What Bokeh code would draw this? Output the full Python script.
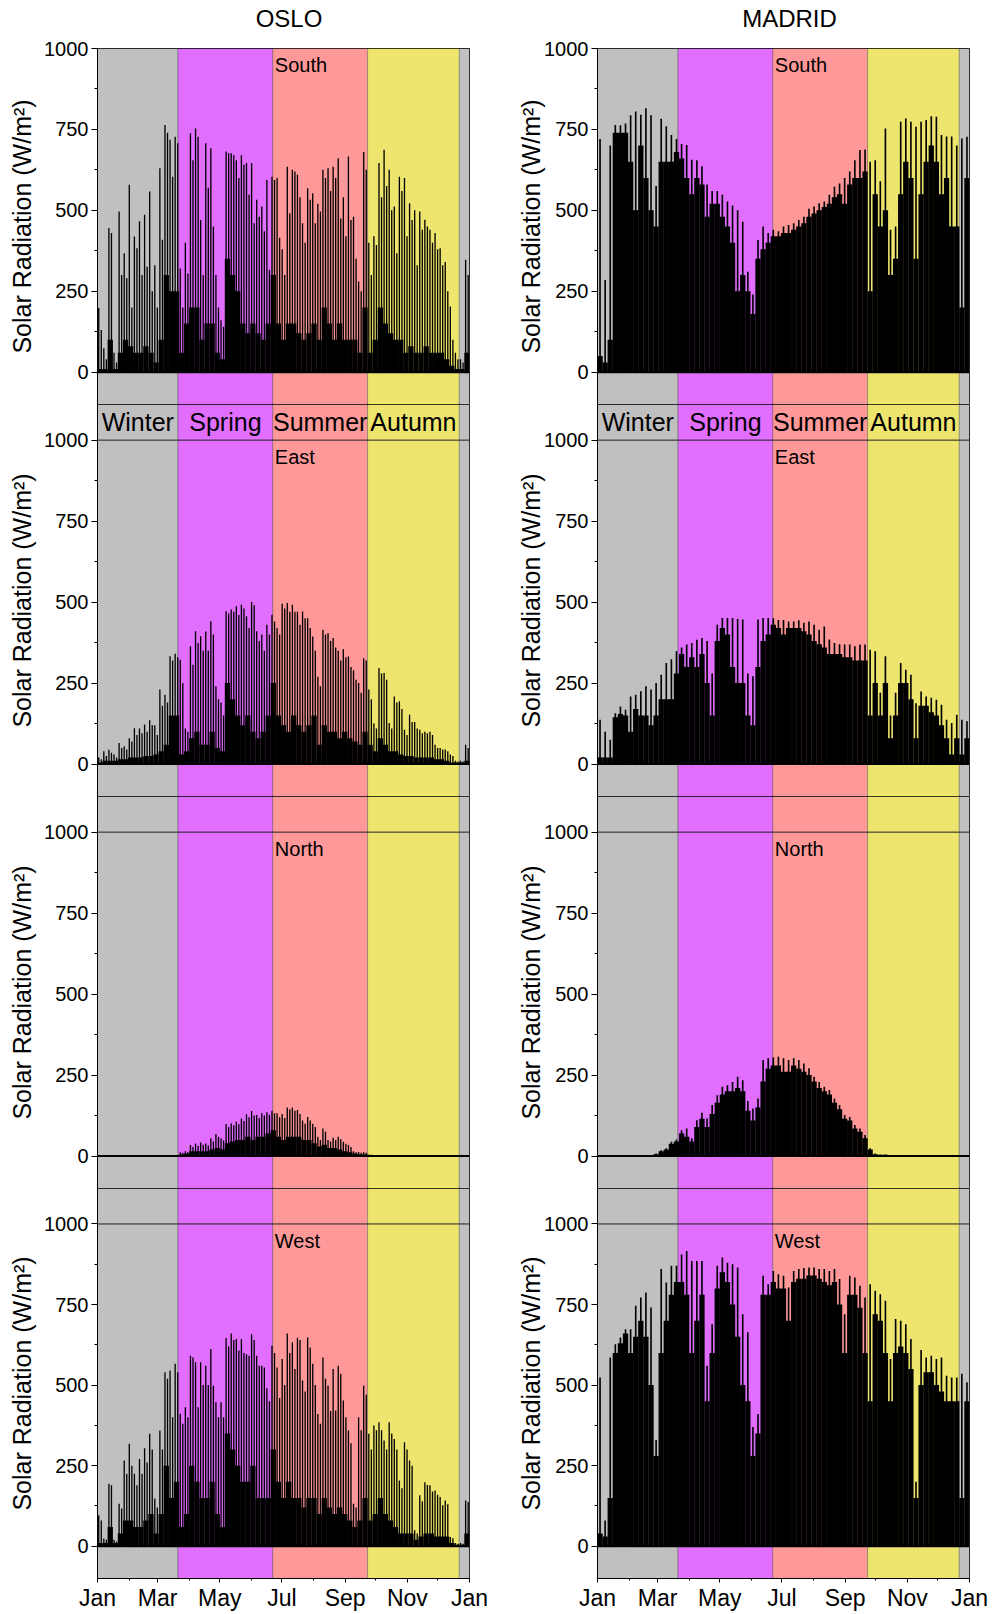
from bokeh.plotting import figure
from bokeh.layouts import gridplot, column, row
from bokeh.models import Range1d, FixedTicker, Span, BoxAnnotation, Label, Div
from bokeh.embed import file_html
from bokeh.resources import INLINE
from bokeh.core.properties import value

FONT = "Liberation Sans"

# ---- data -----------------------------------------------------------------
# 5-day bins (start day of each bin)
BIN_DAYS = list(range(0, 365, 5))
BIN_WIDTH = 5

SEASON_NAMES = ["Winter", "Spring", "Summer", "Autumn", "Winter"]
SEASON_START = [0, 79, 172, 265, 355]
SEASON_END = [79, 172, 265, 355, 365]
SEASON_COLORS = ["#C0C0C0", "#E16EFF", "#FF9999", "#EEE56E", "#C0C0C0"]

MONTH_TICKS = [0, 59, 120, 181, 243, 304, 365]
MONTH_LABELS = ["Jan", "Mar", "May", "Jul", "Sep", "Nov", "Jan"]
MONTH_MINOR = [31, 90, 151, 212, 273, 334]

CITIES = ["OSLO", "MADRID"]
ORIENTATIONS = ["South", "East", "North", "West"]

# peak = highest daily spike in bin, mid = second spike, low = level filled almost solid
OSLO_SOUTH_PEAK = [198, 74, 445, 60, 496, 367, 579, 419, 466, 486,
                   558, 330, 630, 764, 718, 727, 320, 400, 738, 753,
                   470, 707, 692, 300, 160, 682, 676, 655, 670, 646,
                   646, 533, 512, 594, 604, 600, 380, 635, 625, 610,
                   460, 568, 553, 520, 625, 630, 635, 661, 540, 666,
                   480, 280, 680, 400, 420, 646, 687, 625, 512, 604,
                   600, 522, 500, 496, 471, 440, 430, 383, 340, 203,
                   60, 40, 347]
OSLO_SOUTH_MID = [130, 40, 430, 30, 300, 290, 200, 383, 300, 326,
                  250, 200, 409, 740, 604, 707, 200, 305, 655, 727,
                  300, 570, 450, 200, 140, 676, 670, 600, 641, 548,
                  460, 480, 435, 316, 594, 415, 300, 491, 620, 540,
                  400, 533, 460, 496, 600, 560, 600, 475, 420, 470,
                  350, 250, 625, 300, 393, 540, 575, 500, 367, 560,
                  420, 470, 330, 440, 450, 400, 380, 330, 250, 100,
                  40, 30, 300]
OSLO_SOUTH_LOW = [10, 10, 100, 10, 60, 100, 80, 60, 60, 80,
                  60, 30, 100, 300, 250, 250, 60, 150, 200, 200,
                  100, 150, 150, 60, 40, 350, 300, 250, 150, 120,
                  150, 120, 100, 150, 300, 150, 100, 150, 150, 120,
                  100, 120, 150, 100, 200, 150, 100, 150, 100, 100,
                  100, 60, 200, 60, 100, 200, 150, 120, 100, 100,
                  60, 80, 60, 60, 80, 60, 60, 60, 40, 20,
                  10, 10, 60]

MADRID_SOUTH_PEAK = [720, 285, 700, 764, 763, 768, 794, 805, 795, 815,
                     794, 575, 783, 760, 733, 720, 705, 702, 656, 655,
                     636, 580, 560, 560, 548, 527, 515, 500, 465, 310,
                     240, 408, 450, 430, 440, 435, 450, 455, 460, 470,
                     480, 505, 512, 522, 527, 548, 573, 583, 600, 620,
                     655, 686, 688, 650, 655, 590, 753, 440, 450, 774,
                     784, 774, 758, 774, 779, 791, 789, 733, 728, 728,
                     700, 722, 727]
MADRID_SOUTH_LOW = [50, 30, 100, 740, 740, 740, 650, 500, 700, 600,
                    500, 450, 650, 650, 650, 680, 660, 600, 550, 600,
                    580, 480, 520, 520, 480, 450, 400, 250, 300, 250,
                    180, 350, 380, 400, 420, 420, 430, 430, 440, 450,
                    460, 480, 490, 500, 510, 520, 540, 550, 520, 580,
                    600, 600, 620, 250, 550, 450, 500, 300, 350, 550,
                    650, 600, 350, 550, 650, 700, 650, 550, 600, 450,
                    450, 200, 600]

OSLO_EAST_PEAK = [20, 40, 44, 30, 65, 55, 80, 111, 110, 122,
                  135, 120, 230, 214, 333, 341, 322, 110, 364, 410,
                  395, 409, 441, 240, 190, 472, 477, 487, 492, 456,
                  500, 410, 400, 430, 461, 420, 495, 497, 492, 470,
                  471, 450, 394, 270, 415, 404, 389, 350, 355, 332,
                  290, 250, 327, 230, 125, 297, 281, 127, 209, 194,
                  106, 152, 130, 106, 100, 100, 60, 50, 45, 30,
                  10, 10, 60]
OSLO_EAST_MID = [15, 25, 35, 20, 50, 45, 70, 90, 95, 100,
                 120, 90, 180, 190, 320, 330, 250, 100, 307, 374,
                 350, 350, 400, 200, 150, 465, 470, 460, 480, 420,
                 490, 380, 350, 400, 440, 400, 480, 470, 470, 430,
                 450, 420, 350, 240, 400, 380, 360, 320, 330, 300,
                 260, 220, 320, 200, 110, 280, 260, 110, 190, 170,
                 90, 130, 110, 95, 95, 90, 50, 45, 40, 25,
                 8, 8, 50]
OSLO_EAST_LOW = [5, 10, 10, 10, 15, 15, 20, 20, 20, 25,
                 25, 30, 40, 60, 150, 150, 30, 40, 80, 100,
                 60, 60, 100, 50, 40, 250, 200, 150, 120, 150,
                 100, 80, 100, 150, 250, 150, 120, 100, 150, 120,
                 100, 120, 150, 60, 120, 100, 100, 80, 100, 80,
                 70, 60, 100, 60, 40, 80, 60, 40, 40, 30,
                 25, 25, 20, 20, 20, 20, 15, 15, 10, 5,
                 5, 5, 10]

MADRID_EAST_PEAK = [137, 100, 75, 157, 178, 168, 209, 214, 225, 240,
                    230, 250, 276, 312, 324, 348, 360, 369, 374, 384,
                    389, 380, 280, 430, 451, 451, 451, 448, 446, 280,
                    271, 446, 451, 451, 450, 445, 445, 440, 440, 444,
                    436, 440, 430, 415, 425, 385, 374, 370, 369, 369,
                    364, 369, 369, 353, 348, 220, 333, 150, 220, 312,
                    291, 276, 188, 224, 209, 205, 199, 183, 137, 127,
                    152, 137, 132]
MADRID_EAST_LOW = [20, 20, 20, 145, 155, 150, 100, 170, 150, 150,
                   120, 150, 200, 200, 200, 280, 340, 300, 330, 300,
                   340, 250, 150, 380, 420, 400, 300, 250, 250, 150,
                   120, 300, 380, 400, 430, 420, 400, 420, 420, 420,
                   410, 400, 380, 370, 360, 340, 340, 340, 330, 330,
                   320, 320, 320, 150, 250, 150, 250, 80, 150, 250,
                   250, 200, 80, 180, 180, 160, 150, 120, 80, 30,
                   80, 30, 80]

OSLO_NORTH_PEAK = [0, 0, 0, 0, 0, 0, 0, 0, 0, 0,
                   0, 0, 0, 0, 0, 0, 12, 15, 34, 39,
                   42, 39, 55, 68, 55, 99, 101, 106, 116, 129,
                   139, 127, 132, 135, 140, 132, 130, 150, 150, 142,
                   110, 121, 100, 60, 85, 50, 57, 60, 44, 34,
                   15, 13, 12, 5, 0, 0, 0, 0, 0, 0,
                   0, 0, 0, 0, 0, 0, 0, 0, 0, 0,
                   0, 0, 0]
OSLO_NORTH_MID = [0, 0, 0, 0, 0, 0, 0, 0, 0, 0,
                  0, 0, 0, 0, 0, 0, 10, 12, 28, 32,
                  35, 33, 45, 60, 48, 90, 95, 98, 108, 120,
                  125, 118, 125, 128, 132, 120, 118, 145, 140, 130,
                  100, 110, 90, 50, 75, 45, 50, 52, 38, 28,
                  12, 10, 10, 4, 0, 0, 0, 0, 0, 0,
                  0, 0, 0, 0, 0, 0, 0, 0, 0, 0,
                  0, 0, 0]
OSLO_NORTH_LOW = [0, 0, 0, 0, 0, 0, 0, 0, 0, 0,
                  0, 0, 0, 0, 0, 0, 5, 8, 15, 15,
                  15, 15, 20, 25, 20, 40, 45, 50, 50, 60,
                  50, 60, 60, 70, 80, 60, 50, 60, 60, 60,
                  50, 50, 40, 30, 35, 25, 25, 20, 15, 12,
                  8, 6, 5, 2, 0, 0, 0, 0, 0, 0,
                  0, 0, 0, 0, 0, 0, 0, 0, 0, 0,
                  0, 0, 0]

MADRID_NORTH_PEAK = [0, 0, 0, 0, 0, 0, 0, 0, 0, 0,
                     3, 8, 18, 24, 44, 51, 80, 85, 55, 111,
                     134, 116, 158, 188, 214, 219, 229, 245, 234, 170,
                     147, 178, 297, 302, 304, 307, 302, 297, 302, 297,
                     286, 271, 245, 229, 214, 204, 178, 158, 127, 121,
                     96, 85, 65, 24, 8, 5, 5, 3, 3, 2,
                     0, 0, 0, 0, 0, 0, 0, 0, 0, 0,
                     0, 0, 0]
MADRID_NORTH_LOW = [0, 0, 0, 0, 0, 0, 0, 0, 0, 0,
                    2, 6, 15, 20, 38, 45, 70, 60, 45, 90,
                    115, 90, 130, 165, 190, 200, 200, 210, 200, 140,
                    110, 150, 230, 270, 280, 280, 260, 260, 280, 270,
                    260, 250, 230, 210, 200, 190, 165, 145, 115, 110,
                    85, 75, 55, 20, 6, 4, 4, 2, 2, 1,
                    0, 0, 0, 0, 0, 0, 0, 0, 0, 0,
                    0, 0, 0]

OSLO_WEST_PEAK = [96, 24, 194, 20, 132, 266, 318, 225, 271, 304,
                  349, 148, 359, 540, 545, 566, 411, 431, 591, 571,
                  571, 560, 612, 447, 447, 646, 660, 643, 643, 596,
                  658, 591, 560, 490, 622, 555, 581, 660, 633, 647,
                  514, 648, 566, 410, 586, 498, 550, 560, 452, 359,
                  132, 400, 498, 349, 375, 385, 328, 385, 333, 204,
                  323, 266, 50, 158, 199, 189, 173, 153, 142, 29,
                  10, 10, 142]
OSLO_WEST_MID = [80, 20, 189, 15, 117, 225, 250, 189, 225, 260,
                 300, 120, 300, 520, 400, 540, 380, 400, 586, 431,
                 500, 500, 498, 400, 400, 620, 640, 607, 600, 591,
                 640, 560, 555, 450, 600, 460, 500, 600, 550, 640,
                 480, 617, 500, 380, 520, 420, 421, 535, 400, 320,
                 120, 360, 470, 300, 360, 360, 300, 350, 300, 180,
                 300, 250, 40, 140, 190, 170, 160, 127, 130, 25,
                 8, 8, 137]
OSLO_WEST_LOW = [10, 10, 60, 10, 40, 80, 80, 60, 60, 80,
                 100, 40, 100, 250, 150, 200, 60, 100, 250, 200,
                 150, 150, 200, 100, 60, 350, 300, 250, 200, 200,
                 250, 150, 150, 150, 300, 200, 150, 200, 150, 150,
                 120, 150, 150, 100, 150, 120, 100, 120, 100, 80,
                 60, 80, 150, 80, 100, 150, 100, 80, 60, 40,
                 40, 40, 20, 30, 40, 40, 30, 30, 30, 10,
                 5, 5, 40]

MADRID_WEST_PEAK = [524, 80, 586, 627, 648, 673, 673, 746, 772, 787,
                    741, 330, 860, 818, 870, 870, 905, 916, 885, 885,
                    885, 560, 689, 870, 896, 880, 875, 865, 720, 664,
                    370, 410, 839, 813, 854, 844, 839, 803, 854, 860,
                    863, 865, 865, 860, 860, 854, 860, 829, 720, 839,
                    834, 808, 772, 813, 793, 782, 762, 581, 705, 700,
                    689, 643, 200, 609, 586, 591, 581, 586, 529, 524,
                    524, 535, 509]
MADRID_WEST_LOW = [40, 30, 150, 600, 630, 660, 600, 650, 700, 650,
                   500, 280, 600, 700, 780, 820, 820, 780, 600, 700,
                   780, 450, 600, 800, 850, 820, 750, 650, 500, 450,
                   280, 350, 780, 780, 820, 800, 800, 700, 820, 830,
                   830, 840, 840, 830, 820, 810, 820, 750, 600, 780,
                   780, 740, 600, 450, 720, 700, 600, 450, 600, 620,
                   600, 550, 150, 500, 540, 540, 500, 480, 450, 450,
                   450, 150, 450]

PANEL_DATA = {
    ("OSLO", "South"): (OSLO_SOUTH_PEAK, OSLO_SOUTH_MID, OSLO_SOUTH_LOW),
    ("OSLO", "East"): (OSLO_EAST_PEAK, OSLO_EAST_MID, OSLO_EAST_LOW),
    ("OSLO", "North"): (OSLO_NORTH_PEAK, OSLO_NORTH_MID, OSLO_NORTH_LOW),
    ("OSLO", "West"): (OSLO_WEST_PEAK, OSLO_WEST_MID, OSLO_WEST_LOW),
    ("MADRID", "South"): (MADRID_SOUTH_PEAK, None, MADRID_SOUTH_LOW),
    ("MADRID", "East"): (MADRID_EAST_PEAK, None, MADRID_EAST_LOW),
    ("MADRID", "North"): (MADRID_NORTH_PEAK, None, MADRID_NORTH_LOW),
    ("MADRID", "West"): (MADRID_WEST_PEAK, None, MADRID_WEST_LOW),
}

# ---- layout ---------------------------------------------------------------
FRAME_W = 372
FRAME_H = [356, 392, 392, 392]
BORDER_LEFT = [97, 89]
BORDER_RIGHT = [39, 20]
LABEL_STANDOFF = [5, -4]
TITLE_H = 37
BORDER_TOP = 11
BORDER_BOTTOM = 33
TITLE_PAD = [70, 82]


def make_panel(city, orient, r, c):
    peak, mid, low = PANEL_DATA[(city, orient)]
    top = 1000 if r == 0 else 1110
    height = FRAME_H[r] + (BORDER_TOP if r == 0 else 0) + (BORDER_BOTTOM if r == 3 else 0)
    width = BORDER_LEFT[c] + FRAME_W + BORDER_RIGHT[c]
    p = figure(width=width, height=height,
               x_range=Range1d(0, 365), y_range=Range1d(-100, top),
               output_backend="svg", toolbar_location=None,
               x_axis_location="below" if r == 3 else None,
               min_border_left=BORDER_LEFT[c], min_border_right=BORDER_RIGHT[c],
               min_border_top=BORDER_TOP if r == 0 else 0,
               min_border_bottom=BORDER_BOTTOM if r == 3 else 0)
    p.xgrid.visible = False
    p.ygrid.visible = False
    p.outline_line_color = "black"
    p.outline_line_width = 1
    p.background_fill_color = "white"

    # season bands
    for s, e, col in zip(SEASON_START, SEASON_END, SEASON_COLORS):
        p.add_layout(BoxAnnotation(left=s, right=e, fill_color=col, fill_alpha=1.0,
                                   line_color="#202020", line_width=1, level="underlay"))
    if r > 0:
        p.add_layout(Span(location=1000, dimension="width", line_color="#202020", line_width=1))

    xs_full = [d + BIN_WIDTH / 2 for d in BIN_DAYS]
    p.vbar(x=xs_full, width=BIN_WIDTH * 1.04, bottom=0, top=low,
           fill_color="black", line_color=None)
    if mid is None:
        p.vbar(x=xs_full, width=1.6, bottom=0, top=peak, fill_color="black", line_color=None)
    else:
        xs_a = [d + 1.2 for d in BIN_DAYS]
        xs_b = [d + 3.7 for d in BIN_DAYS]
        p.vbar(x=xs_a, width=1.3, bottom=0, top=peak, fill_color="black", line_color=None)
        p.vbar(x=xs_b, width=1.3, bottom=0, top=mid, fill_color="black", line_color=None)
    p.add_layout(Span(location=0, dimension="width", line_color="black", line_width=2))

    p.add_layout(Label(x=SEASON_START[2] + 2, y=948, text=orient, text_align="left",
                       text_baseline="middle", text_font=FONT, text_font_size="20px",
                       text_color="black"))

    if r == 1:
        centers = [(s + e) / 2 for s, e in zip(SEASON_START[:4], SEASON_END[:4])]
        p.text(x=centers, y=[1056] * 4, text=SEASON_NAMES[:4], text_align="center",
               text_baseline="middle", text_font=value(FONT), text_font_size="25px",
               text_color="black")

    ya = p.yaxis[0]
    ya.ticker = FixedTicker(ticks=[0, 250, 500, 750, 1000], minor_ticks=[125, 375, 625, 875])
    ya.axis_label = "Solar Radiation (W/m²)"
    ya.axis_label_text_font = FONT
    ya.axis_label_text_font_size = "25px"
    ya.axis_label_text_font_style = "normal"
    ya.axis_label_standoff = LABEL_STANDOFF[c]
    ya.major_label_text_font = FONT
    ya.major_label_text_font_size = "20px"
    ya.major_label_standoff = 3
    ya.major_tick_in = 0
    ya.major_tick_out = 6
    ya.minor_tick_in = 0
    ya.minor_tick_out = 3
    ya.axis_line_color = "black"
    ya.major_tick_line_color = "black"
    ya.minor_tick_line_color = "black"
    ya.major_label_text_color = "black"
    ya.axis_label_text_color = "black"

    if r == 3:
        xa = p.xaxis[0]
        xa.ticker = FixedTicker(ticks=MONTH_TICKS, minor_ticks=MONTH_MINOR)
        xa.major_label_overrides = {t: l for t, l in zip(MONTH_TICKS, MONTH_LABELS)}
        xa.major_label_text_font = FONT
        xa.major_label_text_font_size = "23px"
        xa.major_label_text_color = "black"
        xa.major_label_standoff = 2
        xa.major_tick_in = 0
        xa.major_tick_out = 4
        xa.minor_tick_in = 0
        xa.minor_tick_out = 2
        xa.axis_line_color = "black"
    return p


titles = []
for c, city in enumerate(CITIES):
    w = BORDER_LEFT[c] + FRAME_W + BORDER_RIGHT[c]
    html = ('<div style="box-sizing:border-box;width:%dpx;padding-left:%dpx;'
            'text-align:center;font-family:\'%s\';font-size:24px;line-height:%dpx;'
            'color:black;">%s</div>' % (w, TITLE_PAD[c], FONT, TITLE_H, city))
    titles.append(Div(text=html, width=w, height=TITLE_H, margin=(0, 0, 0, 0)))

grid = []
for r, orient in enumerate(ORIENTATIONS):
    grid.append([make_panel(city, orient, r, c) for c, city in enumerate(CITIES)])

plots = gridplot(grid, toolbar_location=None)
layout = column(row(*titles, spacing=0), plots, spacing=0)

open("out.html", "w").write(file_html(layout, INLINE))
